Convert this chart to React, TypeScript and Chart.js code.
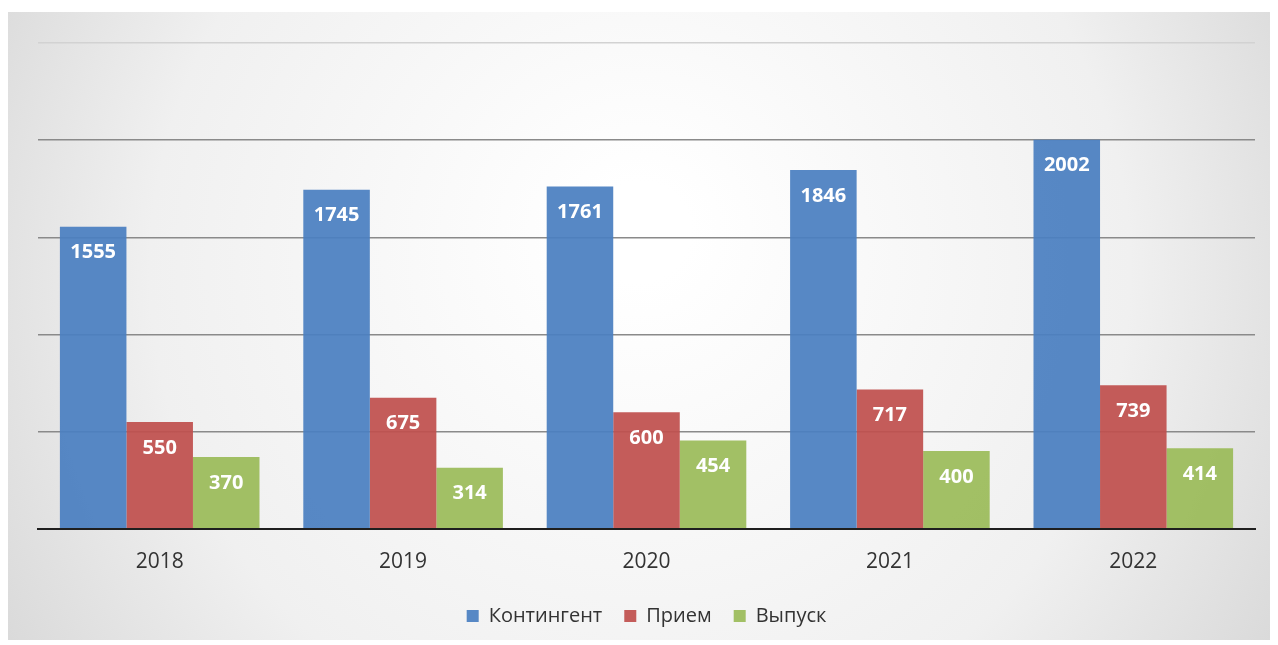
import React, { useEffect, useRef } from "react";
import { Chart, registerables } from "chart.js";

Chart.register(...registerables);

const years = ["2018", "2019", "2020", "2021", "2022"];
const contingent = [1555, 1745, 1761, 1846, 2002];
const admission = [550, 675, 600, 717, 739];
const graduation = [370, 314, 454, 400, 414];
const seriesNames = ["Контингент", "Прием", "Выпуск"];
const yTicks = [0, 500, 1000, 1500, 2000, 2500];

const FONT = "'Open Sans', 'DejaVu Sans', sans-serif";

const bgPlugin = {
  id: "bg",
  beforeDraw(chart: any) {
    const { ctx, width, height } = chart;
    ctx.save();
    const g = ctx.createRadialGradient(width / 2, height * 0.35, 50, width / 2, height * 0.45, width * 0.62);
    g.addColorStop(0, "#ffffff");
    g.addColorStop(0.6, "#f0f0f0");
    g.addColorStop(1, "#d4d4d4");
    ctx.fillStyle = g;
    ctx.fillRect(0, 0, width, height);
    ctx.restore();
  },
};

const labelPlugin = {
  id: "barLabels",
  afterDatasetsDraw(chart: any) {
    const { ctx } = chart;
    ctx.save();
    ctx.font = `bold 20px ${FONT}`;
    ctx.fillStyle = "#ffffff";
    ctx.textAlign = "center";
    ctx.textBaseline = "middle";
    chart.data.datasets.forEach((ds: any, i: number) => {
      const meta = chart.getDatasetMeta(i);
      meta.data.forEach((bar: any, j: number) => {
        ctx.fillText(String(ds.data[j]), bar.x, bar.y + 26);
      });
    });
    ctx.restore();
  },
};

export default function App() {
  const ref = useRef<HTMLCanvasElement>(null);
  useEffect(() => {
    if (!ref.current) return;
    const chart = new Chart(ref.current, {
      type: "bar",
      data: {
        labels: years,
        datasets: [
          { label: seriesNames[0], data: contingent, backgroundColor: "rgba(74,127,193,0.93)" },
          { label: seriesNames[1], data: admission, backgroundColor: "rgba(192,80,77,0.93)" },
          { label: seriesNames[2], data: graduation, backgroundColor: "rgba(155,187,89,0.93)" },
        ],
      },
      options: {
        animation: false,
        responsive: true,
        maintainAspectRatio: false,
        layout: { padding: { left: 30, right: 17, top: 31, bottom: 4 } },
        datasets: { bar: { barPercentage: 1, categoryPercentage: 0.82 } },
        plugins: {
          legend: {
            position: "bottom",
            labels: {
              boxWidth: 12,
              boxHeight: 12,
              color: "#333",
              font: { family: FONT, size: 20 },
              padding: 22,
            },
          },
          tooltip: { enabled: false },
        },
        scales: {
          x: {
            grid: { display: false },
            border: { display: true, color: "#1f1f1f", width: 2 },
            ticks: { color: "#333", font: { family: FONT, size: 21 }, padding: 13 },
            afterFit: (scale: any) => {
              scale.height = scale.height - 4;
            },
          },
          y: {
            min: 0,
            max: 2500,
            afterBuildTicks: (scale: any) => {
              scale.ticks = yTicks.map((v) => ({ value: v }));
            },
            ticks: { display: false },
            border: { display: false },
            grid: {
              color: (c: any) => (c.tick && c.tick.value === 2500 ? "#d2d2d2" : "#8a8a8a"),
              lineWidth: 1.5,
              drawTicks: false,
            },
          },
        },
      },
      plugins: [bgPlugin, labelPlugin],
    });
    return () => chart.destroy();
  }, []);
  return (
    <div style={{ width: 1264, height: 628, marginTop: 4 }}>
      <canvas ref={ref} />
    </div>
  );
}
